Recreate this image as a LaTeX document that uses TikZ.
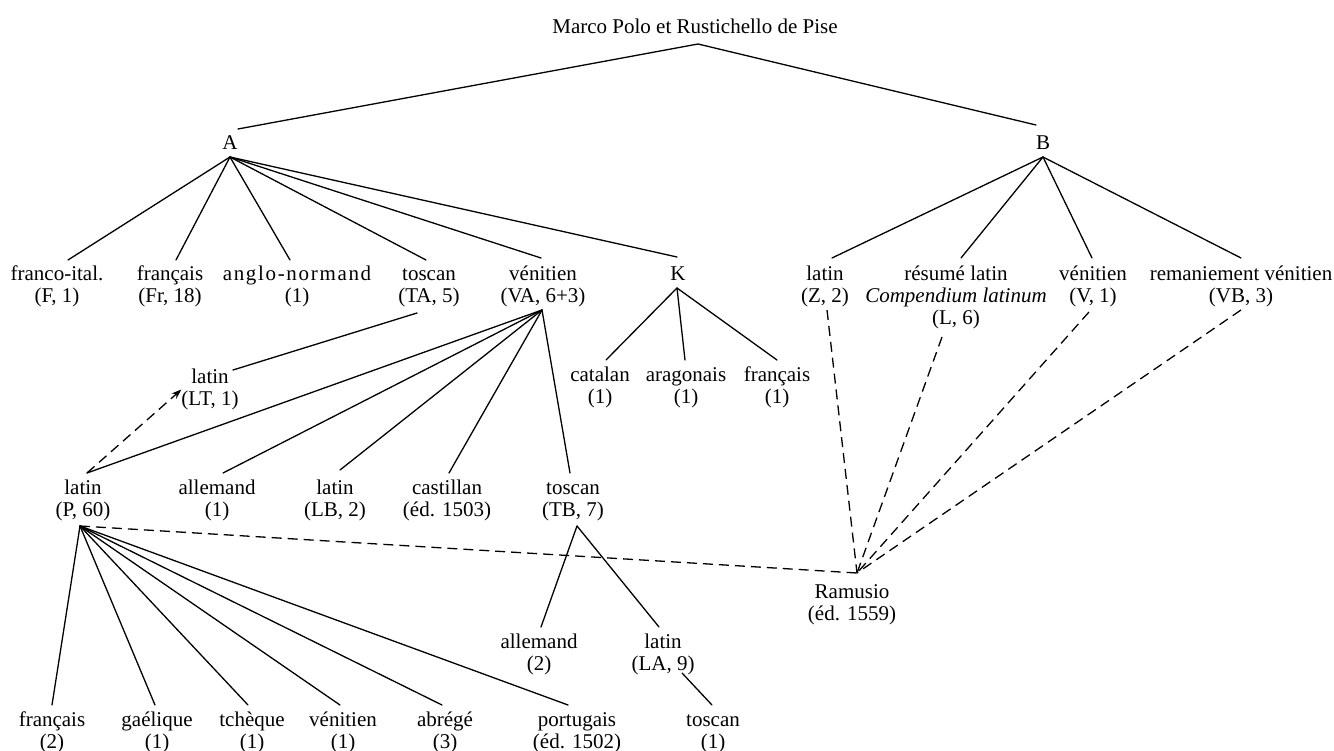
\documentclass[tikz,border=0pt]{standalone}
\usepackage{fontspec}
\setmainfont{Liberation Serif}
\newfontfamily\spacedfont[LetterSpace=8]{Liberation Serif}
\usetikzlibrary{arrows.meta}
\newcommand{\lbl}[1]{\rule{0pt}{21pt}#1\rule[-10pt]{0pt}{10pt}}
\tikzset{
  lab/.style={inner sep=0pt, outer sep=0pt, align=center, anchor=north,
    font=\fontsize{21}{22}\selectfont},
  edge/.style={line width=1.3pt, line cap=round},
  dedge/.style={line width=1.3pt, dash pattern=on 10pt off 6pt},
}
\begin{document}
\begin{tikzpicture}[x=1pt, y=-1pt]
\useasboundingbox (0,0) rectangle (1334,751);
% nodes
\node[lab] (title) at (695,13) {\lbl{Marco Polo et Rustichello de Pise}};
\node[lab] (A) at (230,129) {\lbl{A}};
\node[lab] (B) at (1043,129) {\lbl{B}};
\node[lab] (franco) at (57,260) {\lbl{franco-ital.\\(F, 1)}};
\node[lab] (fr18) at (170,260) {\lbl{français\\(Fr, 18)}};
\node[lab] (anglo) at (297,260) {\lbl{{\spacedfont anglo-normand}\\(1)}};
\node[lab] (TA) at (429,260) {\lbl{toscan\\(TA, 5)}};
\node[lab] (VA) at (543,260) {\lbl{vénitien\\(VA, 6+3)}};
\node[lab] (K) at (678,260) {\lbl{K}};
\node[lab] (Z) at (825,260) {\lbl{latin\\(Z, 2)}};
\node[lab] (L) at (956,260) {\lbl{résumé latin\\\textit{Compendium latinum}\\(L, 6)}};
\node[lab] (V) at (1093,260) {\lbl{vénitien\\(V, 1)}};
\node[lab] (VB) at (1241,260) {\lbl{remaniement vénitien\\(VB, 3)}};
\node[lab] (cat) at (600,360) {\lbl{catalan\\(1)}};
\node[lab] (ara) at (686,360) {\lbl{aragonais\\(1)}};
\node[lab] (frK) at (777,360) {\lbl{français\\(1)}};
\node[lab] (LT) at (210,363) {\lbl{latin\\(LT, 1)}};
\node[lab] (P) at (83,473) {\lbl{latin\\(P, 60)}};
\node[lab] (alVA) at (217,473) {\lbl{allemand\\(1)}};
\node[lab] (LB) at (335,473) {\lbl{latin\\(LB, 2)}};
\node[lab] (cas) at (447,473) {\lbl{castillan\\(éd. 1503)}};
\node[lab] (TB) at (573,473) {\lbl{toscan\\(TB, 7)}};
\node[lab] (alTB) at (539,627) {\lbl{allemand\\(2)}};
\node[lab] (LA) at (663,627) {\lbl{latin\\(LA, 9)}};
\node[lab] (tos1) at (713,705) {\lbl{toscan\\(1)}};
\node[lab] (fr2) at (52,705) {\lbl{français\\(2)}};
\node[lab] (gae) at (157,705) {\lbl{gaélique\\(1)}};
\node[lab] (tch) at (252,705) {\lbl{tchèque\\(1)}};
\node[lab] (ven1) at (343,705) {\lbl{vénitien\\(1)}};
\node[lab] (abr) at (445,705) {\lbl{abrégé\\(3)}};
\node[lab] (por) at (577,705) {\lbl{portugais\\(éd. 1502)}};
\node[lab] (ram) at (852,577) {\lbl{Ramusio\\(éd. 1559)}};
% solid connectors
\draw[edge] ([xshift=8pt]A.north) -- ([xshift=3pt]title.south) -- ([xshift=-7pt,yshift=4pt]B.north);
\foreach \c/\s/\u in {franco/11/0, fr18/6/0, anglo/-7/0, TA/-3/0, VA/-2/2, K/-1/3}
  \draw[edge] ([yshift=3pt]A.south) -- ([xshift=\s pt,yshift=\u pt]\c.north);
\foreach \c/\s in {Z/7, L/5, V/-1, VB/0}
  \draw[edge] ([yshift=3pt]B.south) -- ([xshift=\s pt,yshift=2pt]\c.north);
\draw[edge] ([xshift=-12pt]TA.south) -- ([xshift=23pt,yshift=-7pt]LT.north);
\foreach \c/\s/\u in {P/4/0, alVA/6/0, LB/5/3, cas/2/0, TB/-3/0}
  \draw[edge] ([xshift=-1pt,yshift=3pt]VA.south) -- ([xshift=\s pt,yshift=\u pt]\c.north);
\foreach \c/\s in {cat/6, ara/-1, frK/0}
  \draw[edge] ([xshift=-1pt,yshift=3pt]K.south) -- ([xshift=\s pt]\c.north);
\foreach \c/\s in {alTB/2, LA/-4}
  \draw[edge] ([xshift=4pt]TB.south) -- ([xshift=\s pt]\c.north);
\draw[edge] ([xshift=19pt,yshift=7pt]LA.south) -- ([xshift=-1pt]tos1.north);
\foreach \c/\s in {fr2/0, gae/-2, tch/-4, ven1/-3, abr/-3, por/-9}
  \draw[edge] ([xshift=-3pt]P.south) -- ([xshift=\s pt]\c.north);
% dashed connectors
\draw[dedge] ([xshift=-3pt]P.south) -- ([xshift=5pt,yshift=4pt]ram.north);
\draw[dedge] ([xshift=2pt,yshift=3pt]Z.south) -- ([xshift=5pt,yshift=4pt]ram.north);
\draw[dedge] ([xshift=-14pt,yshift=-2pt]L.south) -- ([xshift=5pt,yshift=4pt]ram.north);
\draw[dedge] ([xshift=-4pt,yshift=1pt]V.south) -- ([xshift=5pt,yshift=4pt]ram.north);
\draw[dedge] ([yshift=3pt]VB.south) -- ([xshift=5pt,yshift=4pt]ram.north);
\draw[dedge, -{Stealth[length=10pt,width=7pt]}] ([xshift=4pt]P.north) -- (LT.west);
\end{tikzpicture}
\end{document}
